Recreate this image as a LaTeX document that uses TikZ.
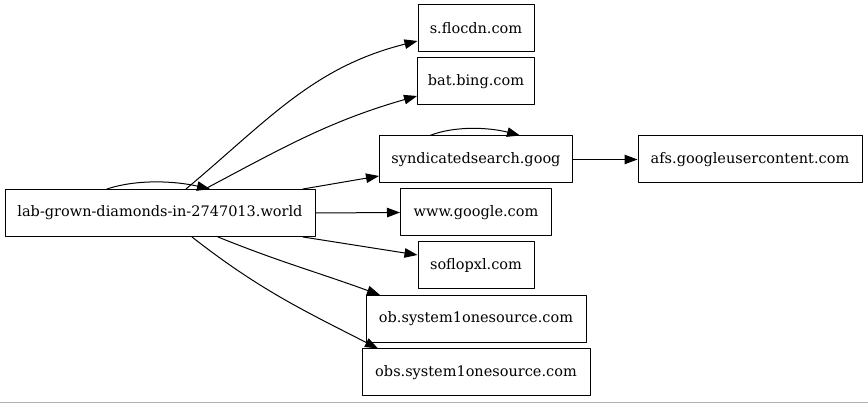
\documentclass[tikz,border=0pt]{standalone}
\usepackage{fontspec}
\setmainfont{DejaVu Serif}
\usetikzlibrary{arrows.meta}
\begin{document}
\begin{tikzpicture}[x=1pt, y=1pt, font=\fontsize{14.5}{18}\selectfont, line join=round, line cap=round,
 >={Triangle[length=13pt,width=9.5pt]},
 host/.style={draw, line width=1pt, inner xsep=0pt, minimum height=47pt},
 link/.style={->, line width=1pt}]
 \useasboundingbox (0,0) rectangle (868,403);
 \def\xcol{476}
 \path
 (160,190) node[host, minimum width=310pt] (main) {lab-grown-diamonds-in-2747013.world}
 (\xcol,374.5) node[host, minimum width=116pt] (flocdn) {s.flocdn.com}
 (\xcol,321.5) node[host, minimum width=117pt] (bing) {bat.bing.com}
 (\xcol,243.5) node[host, minimum width=193pt] (synd) {syndicatedsearch.goog}
 (750,243.5) node[host, minimum width=224pt] (afs) {afs.googleusercontent.com}
 (\xcol,190.5) node[host, minimum width=151pt] (www) {www.google.com}
 (\xcol,137.5) node[host, minimum width=116pt] (soflo) {soflopxl.com}
 (\xcol,84) node[host, minimum width=220pt] (ob) {ob.system1onesource.com}
 (\xcol,30.5) node[host, minimum width=228pt] (obs) {obs.system1onesource.com};
 \draw[link] ([xshift=26pt]main.north) to[out=40,in=194] ([yshift=-12.5pt]flocdn.west);
 \draw[link] ([xshift=45pt]main.north) to[out=28,in=196] ([yshift=-14.5pt]bing.west);
 \draw[link] ([xshift=-53pt]main.north) .. controls +(30,10) and +(-35,8) .. ([xshift=50pt]main.north);
 \draw[link] ([xshift=143pt]main.north) -- ([yshift=-16.5pt]synd.west);
 \draw[link] ([xshift=-46pt]synd.north) .. controls +(25,10) and +(-30,8) .. ([xshift=44pt]synd.north);
 \draw[link] (synd.east) -- (afs.west);
 \draw[link] (main.east) -- (www.west);
 \draw[link] ([xshift=143pt]main.south) -- ([yshift=10.5pt]soflo.west);
 \draw[link] ([xshift=58pt]main.south) to[out=-22,in=160] ([xshift=-96pt]ob.north);
 \draw[link] ([xshift=32pt]main.south) to[out=-38,in=153] ([xshift=-98pt]obs.north);
 \draw[gray!60] (0,0.5)--(868,0.5);
\end{tikzpicture}
\end{document}
